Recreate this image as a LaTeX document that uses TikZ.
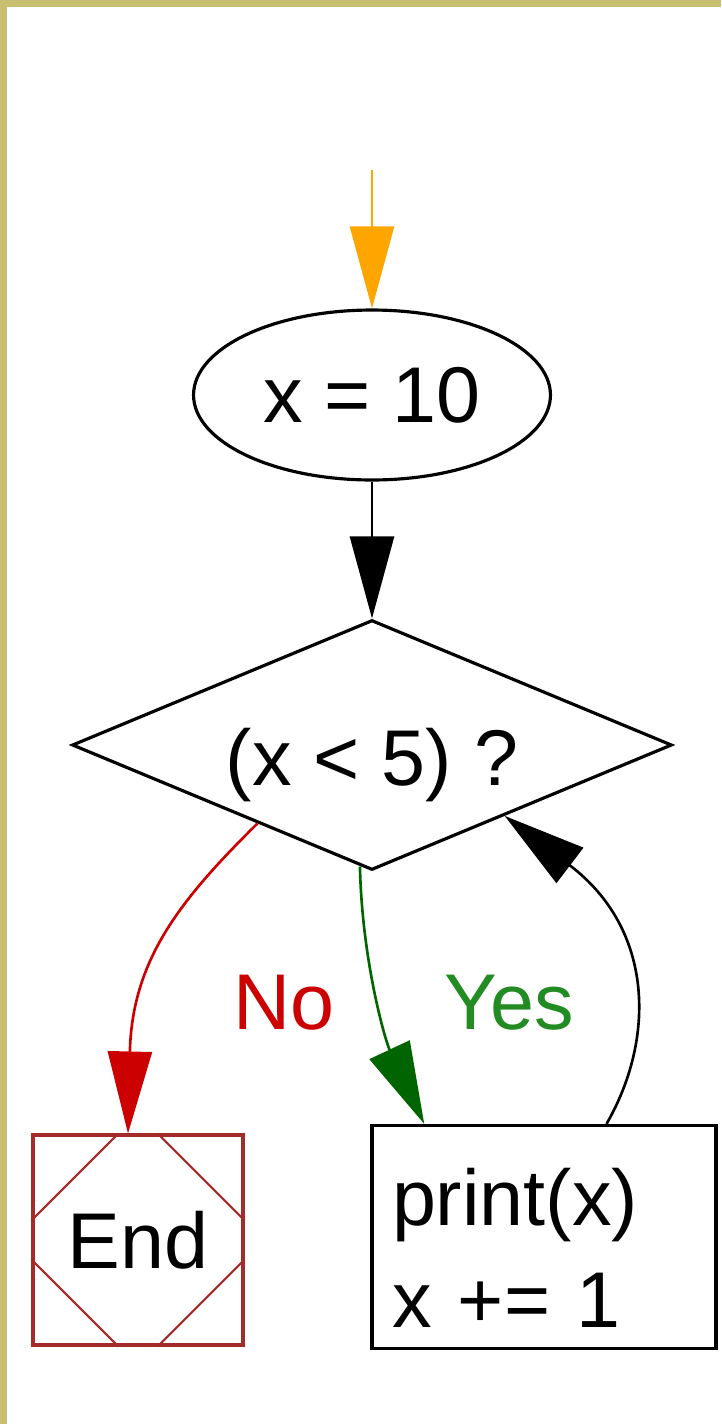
\documentclass[tikz,border=0pt]{standalone}
\usepackage{fontspec}
\setmainfont{Liberation Sans}
\usetikzlibrary{shapes.geometric, arrows.meta, calc}

\definecolor{frameKhaki}{HTML}{C8C070}
\definecolor{entryOrange}{HTML}{FFA500}
\definecolor{noRed}{HTML}{CC0000}
\definecolor{yesGreen}{HTML}{006400}
\definecolor{yesText}{HTML}{228B22}
\definecolor{stopBrown}{HTML}{A52A2A}

\begin{document}
\begin{tikzpicture}[
    x=0.02cm, y=-0.02cm,
    font=\fontsize{45}{54}\selectfont,
    startnode/.style={ellipse, draw=black, line width=1.8pt, minimum width=7.14cm, minimum height=3.4cm, inner sep=0pt},
    testnode/.style={diamond, draw=black, line width=1.8pt, aspect=2.4, minimum width=12cm, minimum height=5cm, inner sep=0pt, text height=1.94cm, text depth=0.34cm},
    stopnode/.style={rectangle, draw=stopBrown, line width=1.8pt, minimum size=4.2cm, inner sep=0pt},
    cornerline/.style={draw=stopBrown, line width=1.2pt},
    stepbox/.style={rectangle, draw=black, line width=1.8pt, font=\fontsize{45}{58}\selectfont, text width=6.08cm, inner xsep=0.4cm, inner ysep=0pt, minimum height=4.46cm, text depth=1.6cm, align=left},
    arrow/.style={-{Triangle[length=1.64cm, width=0.88cm]}, line width=1.5pt}
]

% page and frame
\useasboundingbox (0,0) rectangle (721,1424);
\fill[white] (0,0) rectangle (721,1424);
\fill[frameKhaki] (0,0) rectangle (721,7);
\fill[frameKhaki] (0,0) rectangle (7,1424);

% === Nodes ===
\coordinate (entry) at (372,170);
\node[startnode] (start) at (372,395) {x = 10};
\node[testnode] (cond) at (372,745) {(x < 5) ?};
\node[stopnode] (stop) at (138,1240) {End};
\node[stepbox] (body) at (544,1237) {print(x)\\x += 1};

% corner cuts of the End box
\draw[cornerline] ([xshift=1.74cm]stop.north west) -- ([yshift=-1.74cm]stop.north west);
\draw[cornerline] ([xshift=-1.74cm]stop.north east) -- ([yshift=-1.74cm]stop.north east);
\draw[cornerline] ([xshift=1.74cm]stop.south west) -- ([yshift=1.74cm]stop.south west);
\draw[cornerline] ([xshift=-1.74cm]stop.south east) -- ([yshift=1.74cm]stop.south east);

% === Labels ===
\node[text=noRed] (nolabel) at (284,1003) {No};
\node[text=yesText] (yeslabel) at (509,1003) {Yes};

% === Arrows ===
\draw[arrow, draw=entryOrange] (entry) -- (start);
\draw[arrow] (start) -- (cond);

\draw[arrow, draw=noRed] ($(cond.west)!0.62!(cond.south)$)
    .. controls (180,900) and (132,960) .. ([xshift=-0.2cm]stop.north);
\draw[arrow, draw=yesGreen] ($(cond.west)!0.96!(cond.south)$)
    .. controls (362,960) and (385,1040) .. ($(body.north west)!0.155!(body.north east)$);
\draw[arrow] ($(body.north west)!0.68!(body.north east)$)
    .. controls (655,1040) and (655,930) .. ($(cond.south)!0.44!(cond.east)$);

\end{tikzpicture}
\end{document}
